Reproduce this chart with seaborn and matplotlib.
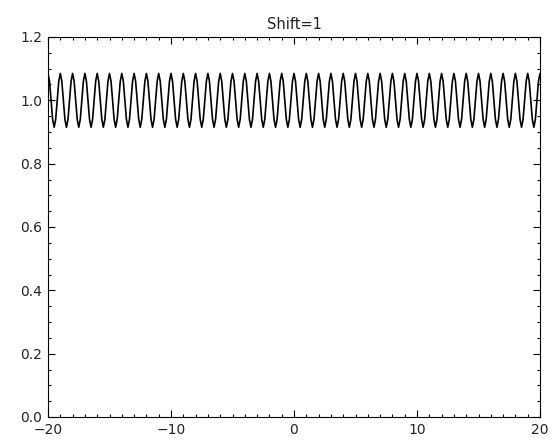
import numpy as np
import pandas as pd
import matplotlib
matplotlib.use("Agg")
import matplotlib.pyplot as plt
import seaborn as sns
from matplotlib.ticker import MultipleLocator, FormatStrFormatter

# one period of the ripple (peak at each integer x)
cycle_phase = [0.0, 0.125, 0.25, 0.375, 0.5, 0.625, 0.75, 0.875]
cycle_y = [1.085, 1.060, 1.0, 0.940, 0.915, 0.940, 1.0, 1.060]
cycle_starts = list(range(-20, 20))

x_ticks = [-20, -10, 0, 10, 20]
y_ticks = [0.0, 0.2, 0.4, 0.6, 0.8, 1.0, 1.2]
title = "Shift=1"

# build the series from the repeated cycle
xs, ys = [], []
for start in cycle_starts:
    for ph, yv in zip(cycle_phase, cycle_y):
        xs.append(start + ph)
        ys.append(yv)
xs.append(cycle_starts[-1] + 1)
ys.append(cycle_y[0])
df = pd.DataFrame({"x": xs, "y": ys})

sns.set_theme(style="ticks")
plt.rcParams['font.family'] = ['DejaVu Sans']

fig = plt.figure(figsize=(5.6, 4.46), dpi=100)
ax = fig.add_axes([48 / 560, 29 / 446, 492 / 560, 380 / 446])

sns.lineplot(data=df, x="x", y="y", ax=ax, color="black", linewidth=1.2,
             estimator=None, sort=False)

ax.set_xlim(-20, 20)
ax.set_ylim(0, 1.2)
ax.set_xticks(x_ticks)
ax.set_yticks(y_ticks)
ax.xaxis.set_minor_locator(MultipleLocator(1))
ax.yaxis.set_minor_locator(MultipleLocator(0.05))
ax.yaxis.set_major_formatter(FormatStrFormatter('%.1f'))

ax.tick_params(which="both", direction="in", top=True, right=True,
               color="black", width=0.8, labelsize=10, labelcolor="#222222")
ax.tick_params(which="major", length=5, pad=4)
ax.tick_params(which="minor", length=2.5)

for sp in ax.spines.values():
    sp.set_visible(True)
    sp.set_color("black")
    sp.set_linewidth(0.8)

ax.set_xlabel("")
ax.set_ylabel("")
ax.set_title(title, fontsize=10.5, pad=6, color="#222222")

fig.savefig("out.png", dpi=100, facecolor="white")
